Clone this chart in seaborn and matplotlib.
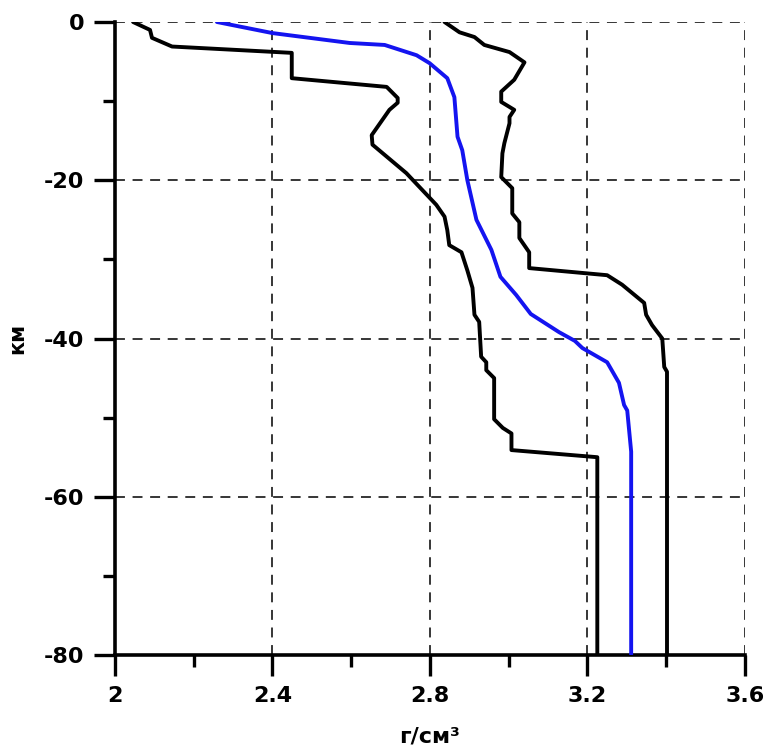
import matplotlib
matplotlib.use('Agg')
import matplotlib.pyplot as plt
import seaborn as sns
import pandas as pd
from matplotlib.ticker import MultipleLocator

# Глубина (км) и плотность (г/см3) — средняя кривая
mean_depth = [0, -1.4, -2.65, -2.9, -4.2, -5.2, -7.1, -9.5, -14.5, -16.2, -20, -25, -28.8,
              -32.2, -34.5, -36.9, -39.2, -40.3, -41.2, -43.0, -45.6, -48.4, -49.1, -54.3, -80]
mean_rho = [2.259, 2.40, 2.596, 2.685, 2.766, 2.799, 2.844, 2.862, 2.870, 2.882, 2.895, 2.918, 2.956,
            2.979, 3.019, 3.056, 3.128, 3.168, 3.187, 3.250, 3.280, 3.293, 3.301, 3.311, 3.311]

# Минимальная кривая
min_depth = [0, -1.0, -2.0, -3.1, -3.9, -7.1, -8.2, -9.6, -10.2, -11.1, -14.3, -15.5, -19.1,
             -23.1, -24.6, -26.3, -28.2, -29.1, -31.4, -33.6, -37.0, -37.9, -42.3, -43.0, -44.0,
             -45.0, -50.2, -51.3, -52.0, -54.1, -55.0, -80]
min_rho = [2.046, 2.089, 2.094, 2.145, 2.449, 2.449, 2.690, 2.718, 2.718, 2.697, 2.652, 2.654, 2.740,
           2.816, 2.837, 2.844, 2.849, 2.880, 2.895, 2.908, 2.913, 2.925, 2.930, 2.943, 2.943,
           2.963, 2.963, 2.985, 3.007, 3.007, 3.225, 3.225]

# Максимальная кривая
max_depth = [0, -1.3, -1.9, -2.9, -3.8, -5.1, -7.3, -8.8, -10.1, -11.1, -12.0, -12.8, -15.3, -16.6,
             -19.6, -21.0, -24.2, -25.3, -27.3, -29.1, -31.1, -32.0, -33.2, -35.5, -37.0, -38.3,
             -40.0, -43.6, -44.2, -80]
max_rho = [2.837, 2.875, 2.913, 2.938, 3.002, 3.040, 3.014, 2.981, 2.981, 3.014, 3.002, 3.002, 2.989, 2.984,
           2.981, 3.009, 3.009, 3.027, 3.027, 3.052, 3.052, 3.250, 3.288, 3.344, 3.349, 3.364,
           3.390, 3.395, 3.402, 3.402]

x_ticks = [2, 2.4, 2.8, 3.2, 3.6]
x_labels = ['2', '2.4', '2.8', '3.2', '3.6']
y_ticks = [0, -20, -40, -60, -80]
y_labels = ['0', '-20', '-40', '-60', '-80']

sns.set_style("white")
plt.rcParams['font.family'] = ['DejaVu Sans']
plt.rcParams['font.weight'] = 'bold'

fig = plt.figure(figsize=(7.68, 7.51), dpi=100)
ax = fig.add_axes([0.1497, 0.1278, 0.8203, 0.8429])

curves = [(min_rho, min_depth, 'black'), (max_rho, max_depth, 'black'), (mean_rho, mean_depth, '#1414f0')]
for xs, ys, c in curves:
    df = pd.DataFrame({'rho': xs, 'depth': ys})
    sns.lineplot(data=df, x='rho', y='depth', sort=False, estimator=None, color=c,
                 linewidth=2.8, ax=ax, zorder=3)

ax.set_xlim(2, 3.6)
ax.set_ylim(-80, 0)
ax.set_xticks(x_ticks)
ax.set_xticklabels(x_labels)
ax.set_yticks(y_ticks)
ax.set_yticklabels(y_labels)
ax.xaxis.set_minor_locator(MultipleLocator(0.2))
ax.yaxis.set_minor_locator(MultipleLocator(10))

ax.grid(True, which='major', color='black', linestyle=(0, (6.5, 5)), linewidth=1.1)
for s in ['top', 'right']:
    ax.spines[s].set_visible(False)
for s in ['left', 'bottom']:
    ax.spines[s].set_linewidth(2.6)
    ax.spines[s].set_color('black')

ax.tick_params(axis='both', which='both', bottom=True, left=True, top=False, right=False)
ax.tick_params(axis='both', which='major', direction='out', length=15, width=2.4,
               labelsize=16, colors='black', pad=7)
ax.tick_params(axis='both', which='minor', direction='out', length=8.5, width=2.4, colors='black')

ax.set_xlabel('г/см³', fontsize=16, fontweight='bold', color='black', labelpad=15)
ax.set_ylabel('км', fontsize=15, fontweight='bold', color='black', labelpad=12)

fig.savefig('out.png', dpi=100)
